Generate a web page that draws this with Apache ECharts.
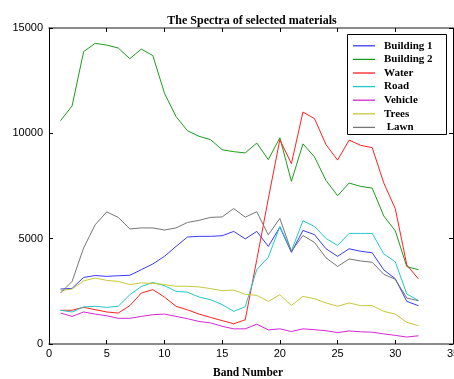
<!DOCTYPE html>
<html>
<head>
<meta charset="utf-8">
<script src="https://cdn.jsdelivr.net/npm/echarts@6/dist/echarts.min.js"></script>
<style>
  html, body { margin: 0; padding: 0; background: #fff; }
  #chart { width: 454px; height: 379px; }
</style>
</head>
<body>
<div id="chart"></div>
<script>
// Band numbers 1..32
const bands = [1,2,3,4,5,6,7,8,9,10,11,12,13,14,15,16,17,18,19,20,21,22,23,24,25,26,27,28,29,30,31,32];

// Spectral response of each material per band
const building1 = [2610,2640,3160,3250,3210,3240,3260,3530,3800,4160,4630,5080,5110,5110,5140,5345,
                   4990,5345,4630,5550,4350,5390,5190,4520,4160,4520,4400,4330,3520,3100,2020,1820];
const building2 = [10600,11300,13880,14270,14190,14050,13540,14000,13690,11910,10800,10120,9860,9700,9220,9130,
                   9070,9540,8750,9790,7720,9500,8880,7760,7040,7640,7480,7400,6080,5370,3670,3530];
const water     = [1600,1600,1740,1630,1520,1470,1820,2420,2580,2230,1790,1620,1420,1260,1110,960,
                   1150,4000,6900,9700,8560,11010,10700,9460,8730,9680,9430,9320,7650,6420,3750,3090];
const road      = [1600,1520,1760,1790,1740,1790,2340,2730,2920,2770,2500,2460,2230,2100,1870,1550,
                   1770,3530,4120,5580,4420,5850,5580,5010,4680,5250,5250,5250,4280,3900,2370,2070];
const vehicle   = [1470,1310,1520,1420,1340,1220,1220,1310,1390,1420,1310,1200,1070,1000,840,720,
                   720,940,670,720,590,720,680,630,540,620,580,560,480,410,330,390];
const trees     = [2530,2610,3000,3130,3020,2970,2820,2900,2880,2820,2740,2740,2710,2630,2530,2560,
                   2360,2310,2020,2340,1830,2260,2150,1950,1790,1950,1820,1820,1550,1420,1030,870];
const lawn      = [2420,2970,4560,5660,6270,6010,5460,5510,5510,5410,5510,5770,5870,6010,6030,6430,
                   6020,6280,5180,5960,4400,5150,4820,4090,3680,4035,3940,3880,3310,3070,2180,2055];

const seriesNames = ['Building 1', 'Building 2', 'Water', 'Road', 'Vehicle', 'Trees', ' Lawn'];
const seriesValues = [building1, building2, water, road, vehicle, trees, lawn];
const seriesColors = ['#3a3aff', '#1c9c1c', '#ff2020', '#20c8c8', '#d428d4', '#c8c83a', '#767676'];

// Axis ranges and tick spacing
const xMin = 0, xMax = 35, xStep = 5;
const yMin = 0, yMax = 15000, yStep = 5000;

const serifBold = { fontFamily: 'Liberation Serif', fontWeight: 'bold', color: '#000' };
const tickFont = { fontFamily: 'Liberation Sans', fontSize: 11, color: '#000' };

const chart = echarts.init(document.getElementById('chart'), null, { renderer: 'canvas' });

function frameAxis(extra) {
  return Object.assign({
    type: 'value',
    splitLine: { show: false },
    axisTick: { show: true, inside: true, length: 4, lineStyle: { color: '#000', width: 1 } }
  }, extra);
}

const option = {
  backgroundColor: '#fff',
  animation: false,
  title: {
    text: 'The Spectra of selected materials',
    left: 247,
    top: 10,
    textAlign: 'center',
    textStyle: Object.assign({ fontSize: 12 }, serifBold)
  },
  grid: { left: 49, right: 1, top: 28, height: 316, containLabel: false, outerBoundsMode: 'none' },
  xAxis: [
    frameAxis({
      position: 'bottom', min: xMin, max: xMax, interval: xStep,
      axisLine: { show: true, onZero: false, lineStyle: { color: '#666', width: 1.5 } },
      axisLabel: Object.assign({ margin: 4, showMaxLabel: true, hideOverlap: false }, tickFont),
      name: 'Band Number',
      nameLocation: 'middle',
      nameGap: 23,
      nameTextStyle: Object.assign({ fontSize: 11.5, padding: [0, 6, 0, 0] }, serifBold)
    }),
    frameAxis({
      position: 'top', min: xMin, max: xMax, interval: xStep,
      axisLine: { show: true, onZero: false, lineStyle: { color: '#666', width: 1.5 } },
      axisLabel: { show: false }
    })
  ],
  yAxis: [
    frameAxis({
      position: 'left', min: yMin, max: yMax, interval: yStep,
      axisLine: { show: true, onZero: false, lineStyle: { color: '#000', width: 1 } },
      axisLabel: Object.assign({ margin: 6, formatter: v => String(v) }, tickFont)
    }),
    frameAxis({
      position: 'right', min: yMin, max: yMax, interval: yStep,
      axisLine: { show: true, onZero: false, lineStyle: { color: '#000', width: 1 } },
      axisLabel: { show: false }
    })
  ],
  graphic: [{
    type: 'rect',
    z: 90,
    shape: { x: 347.5, y: 34.5, width: 99, height: 100 },
    style: { fill: '#fff', stroke: '#000', lineWidth: 1 }
  }],
  legend: {
    orient: 'vertical',
    left: 347,
    top: 39,
    z: 100,
    padding: [0, 0, 0, 6],
    align: 'left',
    icon: 'rect',
    itemWidth: 22,
    itemHeight: 1.3,
    itemGap: 0,
    data: seriesNames,
    textStyle: Object.assign({ fontSize: 11, lineHeight: 13.6, padding: [0, 0, 0, 4] }, serifBold)
  },
  series: seriesNames.map((name, i) => ({
    name: name,
    type: 'line',
    xAxisIndex: 0,
    yAxisIndex: 0,
    symbol: 'none',
    color: seriesColors[i],
    lineStyle: { width: 1, color: seriesColors[i] },
    data: bands.map((b, k) => [b, seriesValues[i][k]])
  }))
};

chart.setOption(option);
</script>
</body>
</html>
